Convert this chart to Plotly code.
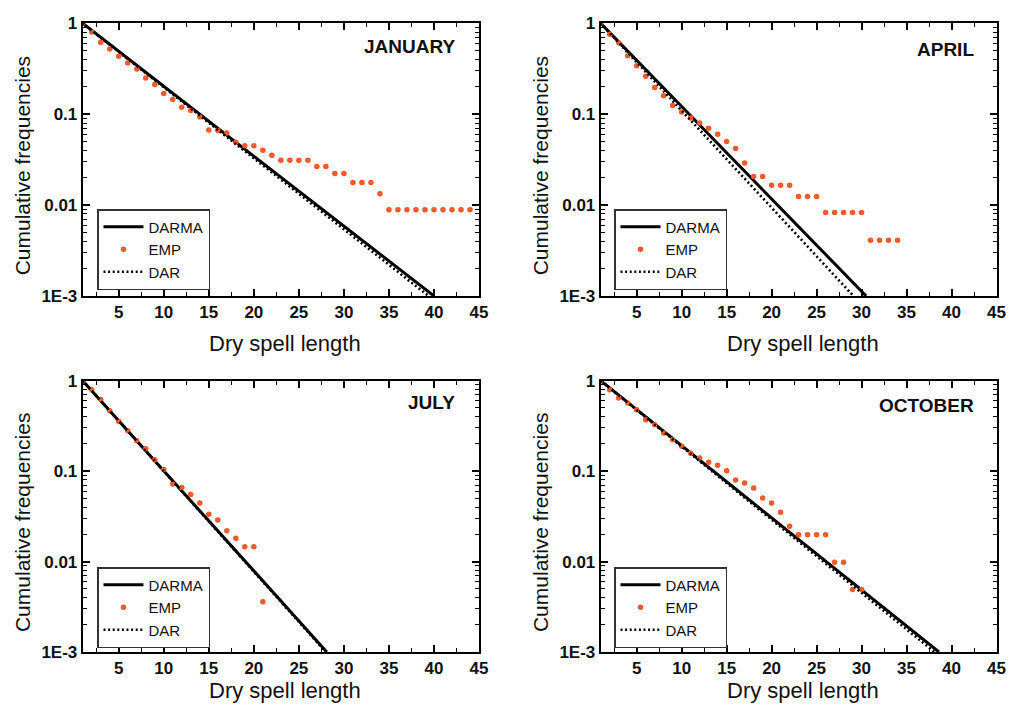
import plotly.graph_objects as go

# ---------------- data ----------------
MONTHS = ["JANUARY", "APRIL", "JULY", "OCTOBER"]

X_TICKS = [5, 10, 15, 20, 25, 30, 35, 40, 45]
Y_TICKS = [1, 0.1, 0.01, 0.001]
Y_TICK_TEXT = ["1", "0.1", "0.01", "1E-3"]

# January
jan_emp_x = list(range(1, 45))
jan_emp_y = [1.0, 0.80, 0.62, 0.52, 0.434, 0.366, 0.315, 0.25, 0.212, 0.169,
             0.145, 0.119, 0.11, 0.093, 0.067, 0.066, 0.062, 0.049, 0.045, 0.045,
             0.040, 0.0354, 0.0312, 0.0312, 0.0312, 0.0312, 0.0266, 0.0266, 0.0222, 0.0222,
             0.0177, 0.0177, 0.0177, 0.0133, 0.0089, 0.0089, 0.0089, 0.0089, 0.0089, 0.0089,
             0.0089, 0.0089, 0.0089, 0.0089]
jan_darma_x = [1, 40.0]
jan_darma_y = [1.0, 0.001]
jan_dar_x = [1, 39.4]
jan_dar_y = [1.0, 0.001]

# April
apr_emp_x = list(range(1, 35))
apr_emp_y = [1.0, 0.76, 0.61, 0.44, 0.342, 0.262, 0.197, 0.16, 0.125, 0.106,
             0.091, 0.08, 0.07, 0.06, 0.05, 0.042, 0.029, 0.0206, 0.0206, 0.0165,
             0.0165, 0.0165, 0.0124, 0.0124, 0.0124, 0.0083, 0.0083, 0.0083, 0.0083, 0.0083,
             0.0041, 0.0041, 0.0041, 0.0041]
apr_darma_x = [1, 30.5]
apr_darma_y = [1.0, 0.001]
apr_dar_x = [1, 29.1]
apr_dar_y = [1.0, 0.001]

# July
jul_emp_x = list(range(1, 22))
jul_emp_y = [1.0, 0.795, 0.62, 0.466, 0.356, 0.28, 0.217, 0.177, 0.134, 0.104,
             0.072, 0.066, 0.055, 0.0444, 0.0333, 0.0289, 0.0219, 0.0181, 0.0146, 0.0146,
             0.0036]
jul_darma_x = [1, 28.1]
jul_darma_y = [1.0, 0.001]
jul_dar_x = [1, 28.0]
jul_dar_y = [1.0, 0.001]

# October
oct_emp_x = list(range(1, 31))
oct_emp_y = [1.0, 0.795, 0.644, 0.567, 0.478, 0.37, 0.326, 0.264, 0.222, 0.188,
             0.158, 0.14, 0.125, 0.116, 0.101, 0.080, 0.0738, 0.065, 0.0504, 0.0444,
             0.035, 0.0245, 0.0198, 0.0198, 0.0198, 0.0198, 0.0098, 0.0098, 0.0049, 0.0049]
oct_darma_x = [1, 38.6]
oct_darma_y = [1.0, 0.001]
oct_dar_x = [1, 38.1]
oct_dar_y = [1.0, 0.001]

PANELS = [
    (jan_emp_x, jan_emp_y, jan_darma_x, jan_darma_y, jan_dar_x, jan_dar_y),
    (apr_emp_x, apr_emp_y, apr_darma_x, apr_darma_y, apr_dar_x, apr_dar_y),
    (jul_emp_x, jul_emp_y, jul_darma_x, jul_darma_y, jul_dar_x, jul_dar_y),
    (oct_emp_x, oct_emp_y, oct_darma_x, oct_darma_y, oct_dar_x, oct_dar_y),
]

# ---------------- layout geometry (pixels in a 1011x707 page) ----------------
W, H = 1011, 707
FONT = "Liberation Sans, Arial, Helvetica, sans-serif"
EMP_COLOR = "#EF5A2A"

# plot boxes: (left, right, top, bottom) in pixels
BOXES = [
    (82.7, 479.0, 23.3, 296.0),
    (600.7, 996.5, 23.3, 296.0),
    (82.7, 479.0, 380.7, 652.0),
    (600.7, 996.5, 380.7, 652.0),
]
LEGEND_POS = [(97, 209), (614, 209), (97, 567), (614, 567)]
MONTH_POS = [(457, 46.5), (976, 49.5), (457, 402.5), (976, 405)]
XTITLE_Y = [344, 344, 690, 690]


def px(x):
    return x / W


def py(y):
    return 1 - y / H


fig = go.Figure()

minor_y = [m * 10 ** e for e in (-3, -2, -1) for m in range(2, 10)]

for i, (ex, ey, dx, dy, rx, ry) in enumerate(PANELS):
    n = i + 1
    xa = "x" if n == 1 else f"x{n}"
    ya = "y" if n == 1 else f"y{n}"
    lg = "legend" if n == 1 else f"legend{n}"
    fig.add_trace(go.Scatter(x=dx, y=dy, mode="lines", name="DARMA",
                             line=dict(color="black", width=3),
                             xaxis=xa, yaxis=ya, legend=lg))
    fig.add_trace(go.Scatter(x=ex, y=ey, mode="markers", name="EMP",
                             marker=dict(color=EMP_COLOR, size=5.5, line=dict(width=0)),
                             xaxis=xa, yaxis=ya, legend=lg))
    fig.add_trace(go.Scatter(x=rx, y=ry, mode="lines", name="DAR",
                             line=dict(color="black", width=2.6, dash="2px,2.6px"),
                             xaxis=xa, yaxis=ya, legend=lg))

    l, r, t, b = BOXES[i]
    axis_common = dict(showline=True, linecolor="black", linewidth=2, mirror="allticks",
                       ticks="inside", tickcolor="black", tickwidth=1.5, ticklen=7,
                       showgrid=False, zeroline=False, automargin=False,
                       tickfont=dict(family=FONT, size=17, color="#111", weight="bold"))
    xkey = "xaxis" if n == 1 else f"xaxis{n}"
    ykey = "yaxis" if n == 1 else f"yaxis{n}"
    fig.layout[xkey] = dict(domain=[px(l), px(r)], range=[1, 45], anchor=ya,
                            tickmode="array", tickvals=X_TICKS,
                            ticktext=[str(v) for v in X_TICKS],
                            minor=dict(ticks="inside", ticklen=4, tickwidth=1.2,
                                       tickcolor="black", dtick=2.5, tick0=0),
                            **axis_common)
    fig.layout[ykey] = dict(domain=[py(b), py(t)], type="log", range=[-3, 0], anchor=xa,
                            tickmode="array", tickvals=Y_TICKS, ticktext=Y_TICK_TEXT,
                            minor=dict(ticks="inside", ticklen=4, tickwidth=1.2,
                                       tickcolor="black", tickmode="array", tickvals=minor_y),
                            **axis_common)

    lx, ly = LEGEND_POS[i]
    fig.layout[lg] = dict(x=px(lx), y=py(ly), xanchor="left", yanchor="top",
                          bgcolor="white", bordercolor="#333", borderwidth=1.5,
                          font=dict(family=FONT, size=15, color="#111"),
                          tracegroupgap=0, itemwidth=40)

    mx, my = MONTH_POS[i]
    fig.add_annotation(x=px(mx), y=py(my), xref="paper", yref="paper",
                       xanchor="right", yanchor="middle", showarrow=False,
                       text=MONTHS[i],
                       font=dict(family=FONT, size=19, color="#111", weight="bold"))

    # axis titles
    fig.add_annotation(x=px((l + r) / 2 + 4), y=py(XTITLE_Y[i]), xref="paper", yref="paper",
                       xanchor="center", yanchor="middle", showarrow=False,
                       text="Dry spell length",
                       font=dict(family=FONT, size=22, color="#111"))
    fig.add_annotation(x=px(l - 60), y=py((t + b) / 2 + 6), xref="paper", yref="paper",
                       xanchor="center", yanchor="middle", showarrow=False, textangle=-90,
                       text="Cumulative frequencies",
                       font=dict(family=FONT, size=21, color="#111"))

fig.update_layout(width=W, height=H, margin=dict(l=0, r=0, t=0, b=0, autoexpand=False),
                  paper_bgcolor="white", plot_bgcolor="white", showlegend=True)

fig.write_html("out.html")
